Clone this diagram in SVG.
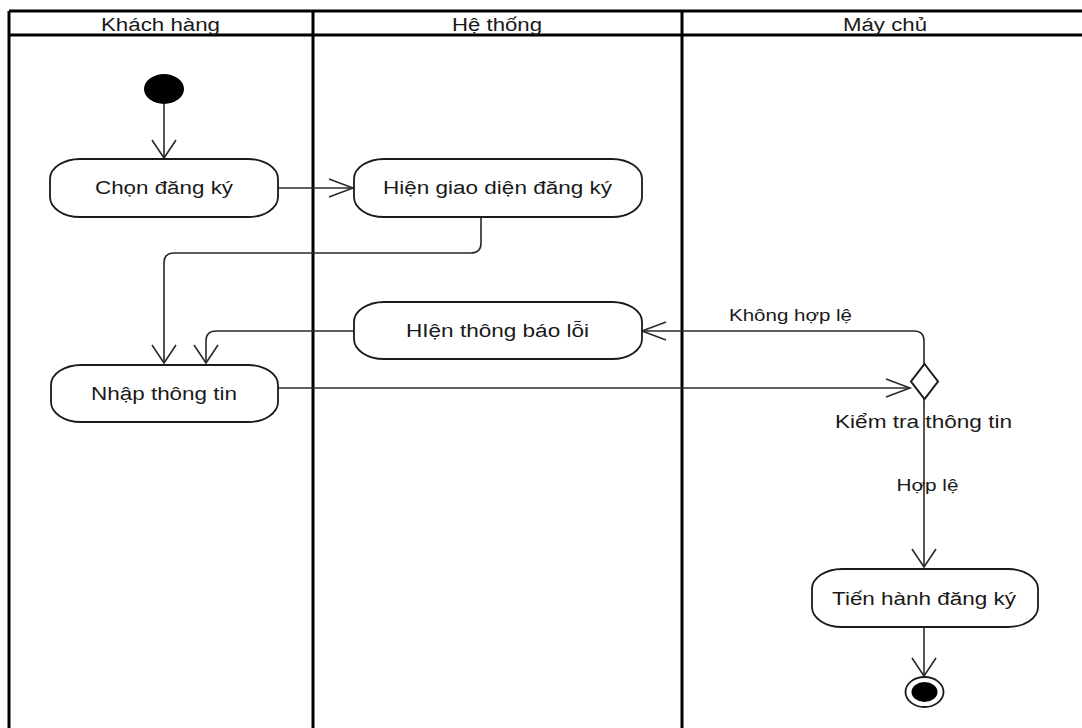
<svg xmlns="http://www.w3.org/2000/svg" width="1082" height="728" viewBox="0 0 1082 728">
<style>
.lane{fill:none;stroke:#000;stroke-width:3}
.box{fill:#fff;stroke:#1a1a1a;stroke-width:1.8}
.txt{font-family:"Liberation Sans",Arial,sans-serif;font-size:18px;fill:#1a1a1a;text-anchor:middle}
.lbl{font-family:"Liberation Sans",Arial,sans-serif;font-size:16px;fill:#1a1a1a;text-anchor:middle}
.con{fill:none;stroke:#2a2a2a;stroke-width:1.6}
.ah{fill:none;stroke:#2a2a2a;stroke-width:1.6}
</style>
<defs>
<marker id="ah-down" markerUnits="userSpaceOnUse" orient="0" overflow="visible" markerWidth="1" markerHeight="1" refX="0" refY="0"><path class="ah" d="M-12,-18 L0,0 L12,-18"/></marker>
<marker id="ah-right" markerUnits="userSpaceOnUse" orient="0" overflow="visible" markerWidth="1" markerHeight="1" refX="0" refY="0"><path class="ah" d="M-24,-9 L0,0 L-24,9"/></marker>
<marker id="ah-left" markerUnits="userSpaceOnUse" orient="0" overflow="visible" markerWidth="1" markerHeight="1" refX="0" refY="0"><path class="ah" d="M24,-9 L0,0 L24,9"/></marker>
</defs>
<rect width="1082" height="728" fill="#fff"/>
<g id="swimlanes">
<path class="lane" d="M9,11 L1082,11 M9,35 L1082,35 M9,11 L9,728 M313,11 L313,728 M682,11 L682,728"/>
<text class="txt" x="160.5" y="31" textLength="119" lengthAdjust="spacingAndGlyphs">Khách hàng</text>
<text class="txt" x="497" y="31" textLength="90" lengthAdjust="spacingAndGlyphs">Hệ thống</text>
<text class="txt" x="885" y="31" textLength="84" lengthAdjust="spacingAndGlyphs">Máy chủ</text>
</g>
<g id="connectors">
<path class="con" d="M164,104 L164,158" marker-end="url(#ah-down)"/>
<path class="con" d="M278,188 L353,188" marker-end="url(#ah-right)"/>
<path class="con" d="M481,217 L481,243 Q481,253 471,253 L174,253 Q164,253 164,263 L164,363" marker-end="url(#ah-down)"/>
<path class="con" d="M354,331 L216,331 Q206,331 206,341 L206,363" marker-end="url(#ah-down)"/>
<path class="con" d="M278,388 L910,388" marker-end="url(#ah-right)"/>
<path class="con" d="M924,364 L924,341 Q924,331 914,331 L642,331" marker-end="url(#ah-left)"/>
<path class="con" d="M924,399 L924,567" marker-end="url(#ah-down)"/>
<path class="con" d="M924,627 L924,676" marker-end="url(#ah-down)"/>
<text class="lbl" x="790.5" y="321" textLength="123" lengthAdjust="spacingAndGlyphs">Không hợp lệ</text>
<text class="lbl" x="927.5" y="491" textLength="62" lengthAdjust="spacingAndGlyphs">Hợp lệ</text>
</g>
<g id="start">
<ellipse cx="164" cy="89" rx="20" ry="15" fill="#000"/>
</g>
<g id="chon-dang-ky">
<rect class="box" x="50" y="159" width="228" height="58" rx="30" ry="20"/>
<text class="txt" x="164" y="194" textLength="138" lengthAdjust="spacingAndGlyphs">Chọn đăng ký</text>
</g>
<g id="hien-giao-dien">
<rect class="box" x="354" y="159" width="288" height="58" rx="30" ry="20"/>
<text class="txt" x="497.5" y="194" textLength="229" lengthAdjust="spacingAndGlyphs">Hiện giao diện đăng ký</text>
</g>
<g id="hien-thong-bao-loi">
<rect class="box" x="354" y="302" width="288" height="57" rx="30" ry="20"/>
<text class="txt" x="497.5" y="337" textLength="183" lengthAdjust="spacingAndGlyphs">HIện thông báo lỗi</text>
</g>
<g id="nhap-thong-tin">
<rect class="box" x="51" y="365" width="227" height="57" rx="30" ry="20"/>
<text class="txt" x="164" y="400" textLength="146" lengthAdjust="spacingAndGlyphs">Nhập thông tin</text>
</g>
<g id="kiem-tra">
<path d="M924.5,364 L938,381.5 L924.5,399 L911,381.5 Z" fill="#fff" stroke="#1a1a1a" stroke-width="2"/>
<text class="txt" x="923.5" y="428" textLength="177" lengthAdjust="spacingAndGlyphs">Kiểm tra thông tin</text>
</g>
<g id="tien-hanh">
<rect class="box" x="812" y="569" width="226" height="58" rx="30" ry="20"/>
<text class="txt" x="924" y="605" textLength="184" lengthAdjust="spacingAndGlyphs">Tiến hành đăng ký</text>
</g>
<g id="end">
<ellipse cx="924.5" cy="692" rx="19" ry="15" fill="#fff" stroke="#1a1a1a" stroke-width="1.8"/>
<ellipse cx="924.5" cy="692" rx="13" ry="10" fill="#000"/>
</g>
</svg>
